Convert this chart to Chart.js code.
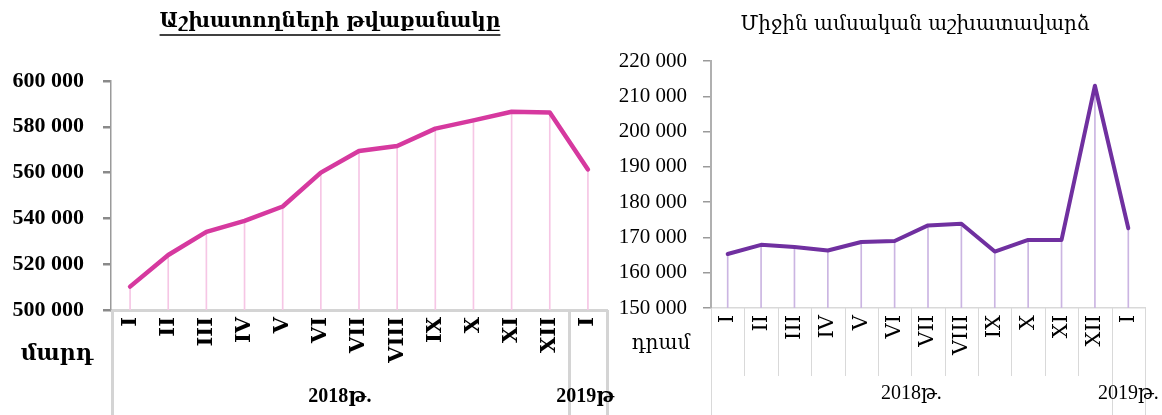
<!DOCTYPE html>
<html>
<head>
<meta charset="utf-8">
<script src="https://cdn.jsdelivr.net/npm/chart.js@4.4.1/dist/chart.umd.min.js"></script>
<style>
  html, body { margin: 0; padding: 0; background: #fff; }
  #wrap { position: relative; width: 1162px; height: 415px; overflow: hidden; }
  .box { position: absolute; top: 0; height: 415px; }
</style>
</head>
<body>
<div id="wrap">
  <div class="box" style="left:0;width:615px"><canvas id="c1"></canvas></div>
  <div class="box" style="left:615px;width:547px"><canvas id="c2"></canvas></div>
</div>
<script>
// ---------- DATA ----------
const categories = ['I', 'II', 'III', 'IV', 'V', 'VI', 'VII', 'VIII', 'IX', 'X', 'XI', 'XII', 'I'];
const yearLabels = ['2018թ.', '2019թ.'];
const yearSpans = [12, 1];
const employees = [510200, 524000, 534100, 538900, 545200, 560000, 569400, 571600, 579200, 582800, 586600, 586200, 561400];
const avgWage = [165300, 167900, 167300, 166300, 168700, 169000, 173400, 173900, 166000, 169300, 169300, 213000, 172600];
const employeesAxis = [500000, 600000, 20000];
const wageAxis = [150000, 220000, 10000];
const titles = ['Աշխատողների թվաքանակը', 'Միջին ամսական աշխատավարձ'];
const units = ['մարդ', 'դրամ'];

// ---------- HELPERS ----------
const fmt = v => String(v).replace(/\B(?=(\d{3})+(?!\d))/g, ' ');

const deco = {
  id: 'deco',
  afterDraw(chart, args, o) {
    const ctx = chart.ctx;
    const x = chart.scales.x;
    const H = chart.height;
    const px = i => x.getPixelForValue(i);
    const half = (px(1) - px(0)) / 2;
    const line = (xx, y0, y1) => { ctx.beginPath(); ctx.moveTo(xx, y0); ctx.lineTo(xx, y1); ctx.stroke(); };
    ctx.save();
    ctx.strokeStyle = o.boxColor;
    ctx.lineWidth = o.boxWidth;
    if (o.catSeparators) {
      for (let i = 1; i < categories.length; i++) line(Math.round(px(i) - half) + 0.5, x.top, x.top + o.catSepLen);
    }
    line(Math.round(px(0) - half) + o.leftShift, x.top, H);
    let start = 0;
    ctx.fillStyle = '#000';
    ctx.textAlign = 'center';
    ctx.textBaseline = 'middle';
    ctx.font = o.groupFont;
    yearSpans.forEach((n, g) => {
      const end = start + n - 1;
      const r = Math.round(px(end) + half) + 0.5;
      const last = g === yearSpans.length - 1;
      line(r, x.top, last ? x.top + o.lastSepLen : H);
      ctx.fillText(yearLabels[g], (px(start) + px(end)) / 2, o.groupY);
      start += n;
    });
    // title
    ctx.font = o.titleFont;
    ctx.fillText(o.title, o.titleX, o.titleY);
    if (o.underline) {
      const w = ctx.measureText(o.title).width;
      ctx.strokeStyle = '#000';
      ctx.lineWidth = 1.5;
      ctx.beginPath();
      ctx.moveTo(o.titleX - w / 2, o.titleY + o.underline);
      ctx.lineTo(o.titleX + w / 2, o.titleY + o.underline);
      ctx.stroke();
    }
    // unit label
    ctx.font = o.unitFont;
    ctx.fillText(o.unit, o.unitX, o.unitY);
    ctx.restore();
  }
};

function makeChart(id, cfg) {
  return new Chart(document.getElementById(id), {
    data: {
      labels: categories,
      datasets: [
        { type: 'line', data: cfg.values, borderColor: cfg.lineColor, borderWidth: cfg.lineWidth,
          pointRadius: 0, tension: 0, order: 0, borderCapStyle: 'round', borderJoinStyle: 'round' },
        { type: 'bar', data: cfg.values, backgroundColor: cfg.dropColor, barThickness: 1, order: 1 }
      ]
    },
    options: {
      responsive: true,
      maintainAspectRatio: false,
      animation: false,
      events: [],
      layout: { padding: cfg.padding },
      plugins: {
        legend: { display: false },
        tooltip: { enabled: false },
        title: { display: false },
        deco: cfg.deco
      },
      scales: {
        x: {
          type: 'category',
          offset: true,
          afterFit: s => { s.height = cfg.xHeight; s.paddingLeft = 0; s.paddingRight = 0; },
          grid: { display: false, drawTicks: false },
          border: { display: true, color: cfg.xBorderColor, width: cfg.xBorderWidth },
          ticks: { autoSkip: false, minRotation: 90, maxRotation: 90, padding: cfg.xPad,
                   color: '#000', font: cfg.xFont }
        },
        y: {
          min: cfg.axis[0], max: cfg.axis[1],
          afterFit: s => { s.width = cfg.yWidth; },
          afterBuildTicks: s => {
            const t = [];
            for (let v = cfg.axis[0]; v <= cfg.axis[1]; v += cfg.axis[2]) t.push({ value: v });
            s.ticks = t;
          },
          grid: { drawOnChartArea: false, drawTicks: true, tickLength: 8, color: cfg.tickColor, lineWidth: cfg.tickWidth },
          border: { display: true, color: cfg.yBorderColor, width: cfg.yBorderWidth },
          ticks: { padding: cfg.yPad, color: '#000', font: cfg.yFont, callback: v => fmt(v) }
        }
      }
    },
    plugins: [deco]
  });
}

makeChart('c1', {
  values: employees, axis: employeesAxis,
  lineColor: '#D6399F', lineWidth: 4.5, dropColor: '#f6c6e5',
  padding: { left: 0, right: 8, top: 81, bottom: 0 },
  xHeight: 105, yWidth: 111, xPad: 7,
  xBorderColor: '#d4d4d4', xBorderWidth: 3,
  yBorderColor: '#9a9a9a', yBorderWidth: 1.5,
  tickColor: '#8a8a8a', tickWidth: 2.5,
  yPad: 19,
  yFont: { family: "'Liberation Serif'", size: 22, weight: 'bold' },
  xFont: { family: "'DejaVu Serif'", size: 21, weight: 'bold' },
  deco: {
    boxColor: '#d4d4d4', boxWidth: 3, catSeparators: false, catSepLen: 0, leftShift: 1.5,
    lastSepLen: 105,
    groupFont: "bold 20px 'Liberation Serif', 'DejaVu Serif'", groupY: 397,
    title: titles[0], titleX: 330, titleY: 22, underline: 13,
    titleFont: "bold 20px 'DejaVu Serif'",
    unit: units[0], unitX: 57, unitY: 354, unitFont: "bold 22px 'DejaVu Serif'"
  }
});

makeChart('c2', {
  values: avgWage, axis: wageAxis,
  lineColor: '#7030A0', lineWidth: 4, dropColor: '#cbb5e2',
  padding: { left: 0, right: 17, top: 61, bottom: 0 },
  xHeight: 107, yWidth: 96, xPad: 7,
  xBorderColor: '#d9d9d9', xBorderWidth: 1.5,
  yBorderColor: '#b0b0b0', yBorderWidth: 2,
  tickColor: '#9a9a9a', tickWidth: 1.5,
  yPad: 16,
  yFont: { family: "'Liberation Serif'", size: 21 },
  xFont: { family: "'DejaVu Serif'", size: 21 },
  deco: {
    boxColor: '#d9d9d9', boxWidth: 1, catSeparators: true, catSepLen: 68, leftShift: 0.5,
    lastSepLen: 107,
    groupFont: "20px 'Liberation Serif', 'DejaVu Serif'", groupY: 394,
    title: titles[1], titleX: 300, titleY: 25, underline: 0,
    titleFont: "20px 'DejaVu Serif'",
    unit: units[1], unitX: 46, unitY: 344, unitFont: "20px 'DejaVu Serif'"
  }
});
</script>
</body>
</html>
